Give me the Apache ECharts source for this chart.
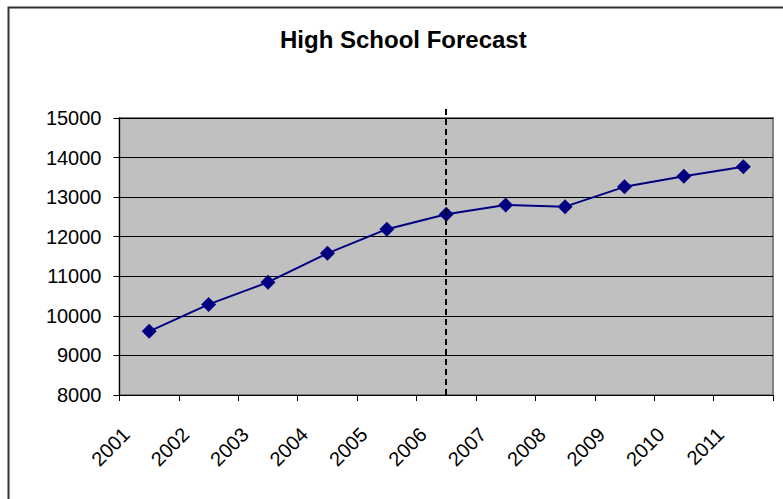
<!DOCTYPE html>
<html>
<head>
<meta charset="utf-8">
<script src="https://cdn.jsdelivr.net/npm/echarts@6/dist/echarts.min.js"></script>
<style>
  html, body { margin: 0; padding: 0; background: #fff; }
  #chart { width: 783px; height: 499px; }
</style>
</head>
<body>
<div id="chart"></div>
<script>
const years = ["2001", "2002", "2003", "2004", "2005", "2006", "2007", "2008", "2009", "2010", "2011"];
const students = [9610, 10290, 10850, 11580, 12190, 12570, 12800, 12760, 13260, 13530, 13770];
const forecastStart = "2006";

const chart = echarts.init(document.getElementById("chart"), null, { renderer: "svg" });

const font = "Liberation Sans, Arial, sans-serif";

chart.setOption({
  animation: false,
  backgroundColor: "#fff",
  title: {
    text: "High School Forecast",
    left: 275,
    top: 22,
    textStyle: { fontFamily: font, fontSize: 24, fontWeight: "bold", color: "#000" }
  },
  graphic: [{
    type: "rect",
    shape: { x: 8.5, y: 7.5, width: 800, height: 520 },
    style: { fill: "none", stroke: "#333", lineWidth: 2 },
    silent: true
  }],
  grid: [
    {
      left: 119.5, right: 10, top: 118, bottom: 104,
      show: true, backgroundColor: "#c0c0c0", borderColor: "#808080", borderWidth: 2
    },
    // same plot width, a bit taller: only carries the forecast divider
    { left: 119.5, right: 10, top: 108, bottom: 104, show: false }
  ],
  xAxis: [
    {
      type: "category",
      data: years,
      boundaryGap: true,
      axisLine: { lineStyle: { color: "#000", width: 1 } },
      axisTick: { show: true, length: 6, lineStyle: { color: "#000" } },
      axisLabel: {
        interval: 0,
        rotate: 45,
        margin: 59,
        verticalAlign: "bottom",
        lineHeight: 65,
        fontFamily: font,
        fontSize: 20,
        color: "#000"
      },
      splitLine: { show: false }
    },
    { type: "category", data: years, gridIndex: 1, show: false }
  ],
  yAxis: [
    {
      type: "value",
      min: 8000,
      max: 15000,
      interval: 1000,
      axisLine: { show: true, lineStyle: { color: "#000", width: 1 } },
      axisTick: { show: true, length: 6, lineStyle: { color: "#000" } },
      axisLabel: {
        margin: 18, fontFamily: font, fontSize: 20, color: "#000",
        formatter: (v) => String(v)
      },
      splitLine: { show: true, lineStyle: { color: "#000", width: 1 } }
    },
    { type: "value", gridIndex: 1, min: 8000, max: 15250, show: false, splitLine: { show: false } }
  ],
  series: [
    {
      type: "line",
      data: students,
      symbol: "diamond",
      symbolSize: 15,
      lineStyle: { color: "#000080", width: 2 },
      itemStyle: { color: "#000080" },
      z: 3
    },
    {
      type: "line",
      xAxisIndex: 1,
      yAxisIndex: 1,
      data: students,
      showSymbol: false,
      silent: true,
      lineStyle: { opacity: 0 },
      z: 2,
      markLine: {
        silent: true,
        symbol: "none",
        label: { show: false },
        lineStyle: { color: "#000", type: [6, 4], width: 2 },
        data: [{ xAxis: forecastStart }]
      }
    }
  ]
});
</script>
</body>
</html>
